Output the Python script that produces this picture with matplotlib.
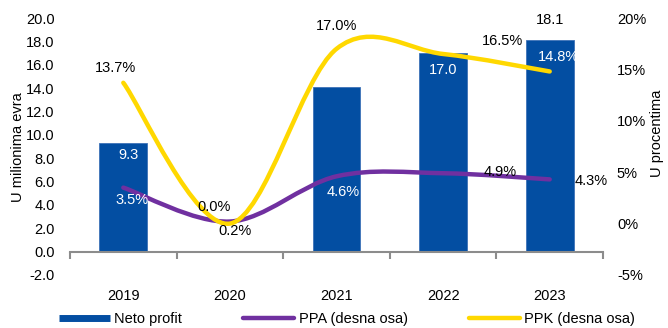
import numpy as np
import matplotlib
matplotlib.use('Agg')
import matplotlib.pyplot as plt
from matplotlib.path import Path
from matplotlib.patches import PathPatch
from matplotlib.lines import Line2D

plt.rcParams['font.family'] = ['Liberation Sans', 'DejaVu Sans']

# =============================================================================
# DATA
# =============================================================================
years = ['2019', '2020', '2021', '2022', '2023']
neto_profit = [9.3, 0.0, 14.1, 17.0, 18.1]          # U milionima evra
ppa = [3.5, 0.2, 4.6, 4.9, 4.3]                       # % (desna osa)
ppk = [13.7, 0.0, 17.0, 16.5, 14.8]                   # % (desna osa)

# which bar values get a label (as in the original)
bar_labels = ['9.3', None, None, '17.0', '18.1']

BLUE = '#034EA2'
PURPLE = '#7030A0'
YELLOW = '#FFD800'
GRAY = '#8C8C8C'
FS = 10.5


def smooth_path(x, y):
    # Excel-like smoothed line: cubic Bezier through every point
    n = len(x)
    pts = np.column_stack([x, y]).astype(float)
    verts = [pts[0]]
    codes = [Path.MOVETO]
    for i in range(n - 1):
        p_prev = pts[i - 1] if i > 0 else pts[i]
        p_next2 = pts[i + 2] if i + 2 < n else pts[i + 1]
        c1 = pts[i] + (pts[i + 1] - p_prev) / 6.0
        c2 = pts[i + 1] - (p_next2 - pts[i]) / 6.0
        verts += [c1, c2, pts[i + 1]]
        codes += [Path.CURVE4] * 3
    return Path(verts, codes)


# =============================================================================
# FIGURE
# =============================================================================
fig = plt.figure(figsize=(6.68, 3.28), dpi=100)
ax = fig.add_axes([70 / 668, 1 - 275 / 328, 533 / 668, 257 / 328])
ax2 = ax.twinx()

xpos = np.arange(len(years))
bars = ax.bar(xpos, neto_profit, width=0.45, color=BLUE,
              edgecolor='#3E72B8', linewidth=0.6, zorder=2)

ax.set_xlim(-0.5, len(years) - 0.5)
ax.set_ylim(-2, 20)
ax.set_yticks(np.arange(-2, 20.1, 2))
ax.set_yticklabels([f'{v:.1f}' for v in np.arange(-2, 20.1, 2)])
ax2.set_ylim(-5, 20)
ax2.set_yticks(np.arange(-5, 20.1, 5))
ax2.set_yticklabels([f'{v:.0f}%' for v in np.arange(-5, 20.1, 5)])

for a in (ax, ax2):
    for s in ('top', 'left', 'right'):
        a.spines[s].set_visible(False)
ax2.spines['bottom'].set_visible(False)

# x-axis line at zero with ticks between categories
ax.spines['bottom'].set_position(('data', 0))
ax.spines['bottom'].set_color(GRAY)
ax.spines['bottom'].set_linewidth(1.5)
ax.set_xticks(xpos)
ax.set_xticklabels(years)
ax.tick_params(axis='x', which='major', length=0, pad=27, labelsize=FS)
ax.set_xticks(np.arange(-0.5, len(years), 1), minor=True)
ax.tick_params(axis='x', which='minor', length=5, width=1.5, color=GRAY, direction='out')

ax.tick_params(axis='y', length=0, pad=11, labelsize=FS)
ax2.tick_params(axis='y', length=0, pad=10, labelsize=FS)

fig.text(18 / 668, 1 - 147 / 328, 'U milionima evra', rotation=90,
         ha='center', va='center', fontsize=FS)
fig.text(657 / 668, 1 - 133 / 328, 'U procentima', rotation=90,
         ha='center', va='center', fontsize=FS)

# smoothed lines
for vals, col in ((ppa, PURPLE), (ppk, YELLOW)):
    patch = PathPatch(smooth_path(xpos, vals), facecolor='none', edgecolor=col,
                      linewidth=3.2, capstyle='round', zorder=3)
    ax2.add_patch(patch)

# bar labels
bar_offsets = [(5, -12), None, None, (0, -17), (0, 20)]
bar_colors = ['white', None, None, 'white', 'black']
for i, lab in enumerate(bar_labels):
    if lab is None:
        continue
    ax.annotate(lab, (xpos[i], neto_profit[i]), xytext=bar_offsets[i],
                textcoords='offset pixels', ha='center', va='center',
                fontsize=FS, color=bar_colors[i])

# line labels
ppa_offsets = [(9, -12), (5, -9), (7, -16), (57, 1), (41, -2)]
ppa_colors = ['white', 'black', 'white', 'black', 'black']
ppk_offsets = [(-8, 15), (-16, 17), (0, 23), (59, 13), (9, 14)]
ppk_colors = ['black', 'black', 'black', 'black', 'white']
for i in range(len(years)):
    ax2.annotate(f'{ppa[i]:.1f}%', (xpos[i], ppa[i]), xytext=ppa_offsets[i],
                 textcoords='offset pixels', ha='center', va='center',
                 fontsize=FS, color=ppa_colors[i], zorder=5)
    ax2.annotate(f'{ppk[i]:.1f}%', (xpos[i], ppk[i]), xytext=ppk_offsets[i],
                 textcoords='offset pixels', ha='center', va='center',
                 fontsize=FS, color=ppk_colors[i], zorder=5)

# legend
handles = [Line2D([], [], color=BLUE, linewidth=5, solid_capstyle='butt'),
           Line2D([], [], color=PURPLE, linewidth=3.2, solid_capstyle='round'),
           Line2D([], [], color=YELLOW, linewidth=3.2, solid_capstyle='round')]
fig.legend(handles, ['Neto profit', 'PPA (desna osa)', 'PPK (desna osa)'],
           loc='center', bbox_to_anchor=(347 / 668, 1 - 319 / 328), ncol=3,
           frameon=False, fontsize=FS, handlelength=3.5, handletextpad=0.3,
           columnspacing=4.2, borderpad=0, borderaxespad=0)

fig.savefig('out.png', dpi=100)
